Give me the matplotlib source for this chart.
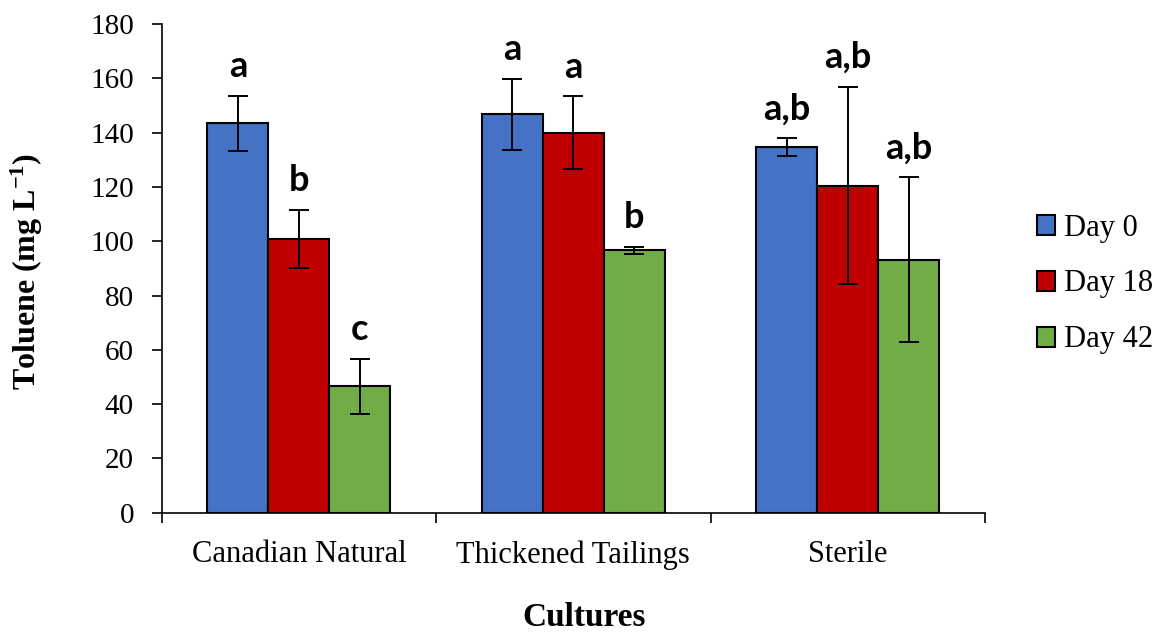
import matplotlib
matplotlib.use("Agg")
import matplotlib.pyplot as plt
import numpy as np

categories = ["Canadian Natural", "Thickened Tailings", "Sterile"]
series_names = ["Day 0", "Day 18", "Day 42"]
day0 = [143.4, 146.7, 134.6]
day18 = [100.8, 139.9, 120.5]
day42 = [46.6, 96.7, 93.2]
err0 = [10.1, 13.0, 3.3]
err18 = [10.6, 13.4, 36.3]
err42 = [10.1, 1.3, 30.4]
letters0 = ["a", "a", "a,b"]
letters18 = ["b", "a", "a,b"]
letters42 = ["c", "b", "a,b"]
colors = ["#4472C4", "#C00000", "#70AD47"]
yticks = [0, 20, 40, 60, 80, 100, 120, 140, 160, 180]

values = [day0, day18, day42]
errs = [err0, err18, err42]
letters = [letters0, letters18, letters42]

serif = "Liberation Serif"
plt.rcParams["mathtext.fontset"] = "custom"
plt.rcParams["mathtext.rm"] = "Liberation Serif"
plt.rcParams["mathtext.bf"] = "Liberation Serif:bold"
plt.rcParams["mathtext.it"] = "Liberation Serif:italic"

W, H = 1163, 633
fig = plt.figure(figsize=(W / 100, H / 100), dpi=100)
ax = fig.add_axes([161.7 / W, 1 - 512.7 / H, (985 - 161.7) / W, (512.7 - 24) / H])

x = np.arange(len(categories))
w = 0.2222
handles = []
for i in range(3):
    pos = x + (i - 1) * w
    b = ax.bar(pos, values[i], w, color=colors[i], edgecolor="black", linewidth=1.5,
               label=series_names[i], zorder=2)
    handles.append(b)
    ax.errorbar(pos, values[i], yerr=errs[i], fmt="none", ecolor="black",
                elinewidth=1.4, capsize=7, capthick=1.4, zorder=3)
    for px, v, e, t in zip(pos, values[i], errs[i], letters[i]):
        ax.annotate(t, (px, v + e), xytext=(0, 13.5), textcoords="offset points",
                    ha="center", va="baseline", fontsize=26, fontweight="bold",
                    family="Lato")

ax.set_xlim(-0.5, 2.5)
ax.set_ylim(0, 180)
ax.set_yticks(yticks)
ax.set_yticklabels([str(t) for t in yticks], fontsize=21, family=serif)
ax.set_xticks([-0.5, 0.5, 1.5, 2.5])
ax.set_xticklabels([])
ax.set_xticks(x, minor=True)
ax.set_xticklabels(categories, minor=True, fontsize=22, family=serif)
ax.tick_params(axis="x", which="major", direction="out", length=7, width=1.2)
ax.tick_params(axis="x", which="minor", length=0, pad=20)
ax.tick_params(axis="y", direction="out", length=7, width=1.2, pad=13)
for s in ["top", "right"]:
    ax.spines[s].set_visible(False)
for s in ["left", "bottom"]:
    ax.spines[s].set_linewidth(1.2)

fig.text(27 / W, 1 - 271 / H, "Toluene (mg L$^{\\mathbf{-1}}$)", rotation=90,
         ha="center", va="center", fontsize=23, fontweight="bold", family=serif)
fig.text(584 / W, 1 - 626 / H, "Cultures", ha="center", va="baseline", fontsize=24,
         fontweight="bold", family=serif)

leg = fig.legend(handles=handles, labels=series_names, loc="center left",
                 bbox_to_anchor=(1016 / W, 1 - 284 / H), frameon=False,
                 prop={"family": serif, "size": 22}, handlelength=0.58, handleheight=0.62,
                 handletextpad=0.3, labelspacing=0.88, borderpad=0.2)

fig.savefig("out.png", dpi=100)
